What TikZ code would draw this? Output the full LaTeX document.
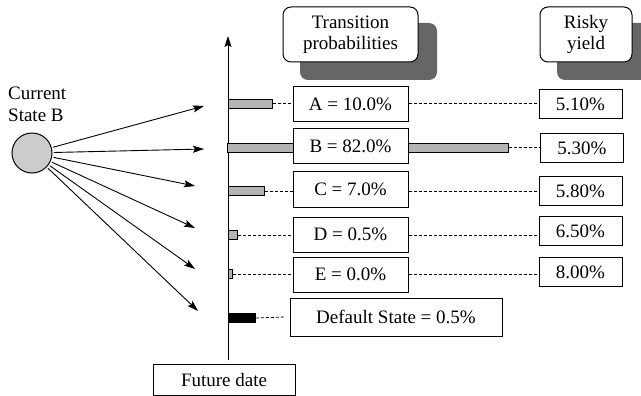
\documentclass[tikz,border=0pt]{standalone}
\usepackage{fontspec}
\setmainfont{Liberation Serif}
\usetikzlibrary{arrows.meta}
\definecolor{barfill}{HTML}{B4B4B4}
\definecolor{ballfill}{HTML}{CCCCCC}
\definecolor{shadowgray}{HTML}{666666}
\begin{document}
\begin{tikzpicture}[x=1pt,y=-1pt,
  every node/.style={font=\fontsize{19}{21.5}\selectfont, inner sep=0pt},
  box/.style={draw, line width=1pt, fill=white, minimum height=35pt, minimum width=115pt},
  ybox/.style={draw, line width=1pt, fill=white, minimum height=29pt, minimum width=83pt},
  bar/.style={draw, line width=0.8pt, fill=barfill, minimum height=9pt, anchor=west, inner sep=0pt},
  lead/.style={dash pattern=on 3pt off 2pt, line width=0.8pt},
  head/.style={draw, line width=1pt, rounded corners=8pt, fill=white, align=center},
  shade/.style={fill=shadowgray, rounded corners=8pt},
  arr/.style={line width=0.9pt, -{Stealth[length=11pt,width=7pt,inset=2pt]}}
]
\useasboundingbox (0,0) rectangle (641,396);

% column headers with drop shadows
\fill[shade] (300,23) rectangle (437,80);
\node[head, minimum width=135pt, minimum height=55pt] (hT) at (350.5,34.5) {Transition\\probabilities};
\fill[shade] (557,23) rectangle (660,80);
\node[head, minimum width=92pt, minimum height=55pt] (hY) at (586,34.5) {Risky\\yield};

% time axis
\coordinate (axb) at (228,360);
\coordinate (axt) at (228,36);
\draw[arr] (axb) -- (axt);
\node[draw, line width=1pt, minimum width=142pt, minimum height=31pt] (fd) at (224,380) {Future date};

% current state
\node[align=left, anchor=north west] (lbl) at (8,87) {Current\\State B};
\node[circle, draw, line width=1pt, fill=ballfill, minimum size=40pt, outer sep=2pt] (cur) at (32,153) {};

\coordinate (tA) at (204,106);
\coordinate (tB) at (204,149);
\coordinate (tC) at (195,186);
\coordinate (tD) at (195,228);
\coordinate (tE) at (195,269);
\coordinate (tF) at (198,311);
\foreach \t in {tA,tB,tC,tD,tE,tF} \draw[arr] (cur) -- (\t);

% probability bars
\node[bar, minimum width=44pt] (bA) at (228,103.5) {};
\node[bar, minimum width=281pt] (bB) at (227,147.5) {};
\node[bar, minimum width=36pt] (bC) at (228,191) {};
\node[bar, minimum width=9pt] (bD) at (228,235) {};
\node[bar, minimum width=4pt] (bE) at (228,274) {};
\node[bar, minimum width=27pt, fill=black] (bF) at (228,318) {};

% transition probability boxes
\node[box] (pA) at (350.5,104.5) {A = 10.0\%};
\node[box] (pB) at (350.5,146.5) {B = 82.0\%};
\node[box] (pC) at (350.5,189.5) {C = 7.0\%};
\node[box] (pD) at (350.5,234.5) {D = 0.5\%};
\node[box] (pE) at (350.5,274.5) {E = 0.0\%};
\node[box, minimum width=212pt, minimum height=38pt] (pF) at (396,317) {Default State = 0.5\%};

% risky yield boxes
\node[ybox] (yA) at (580.5,104.5) {5.10\%};
\node[ybox] (yB) at (582,148) {5.30\%};
\node[ybox] (yC) at (580.5,191) {5.80\%};
\node[ybox] (yD) at (580.5,231) {6.50\%};
\node[ybox] (yE) at (580.5,272) {8.00\%};

% leader lines
\draw[lead] (bA.east) -- (pA.west |- bA.east);
\draw[lead] (pA.east |- bA.east) -- (yA.west |- bA.east);
\draw[lead] (bB.east) -- (yB.west |- bB.east);
\draw[lead] (bC.east) -- (pC.west |- bC.east);
\draw[lead] (pC.east |- bC.east) -- (yC.west |- bC.east);
\draw[lead] (bD.east) -- (pD.west |- bD.east);
\draw[lead] (pD.east |- bD.east) -- (yD.west |- bD.east);
\draw[lead] (bE.east) -- (pE.west |- bE.east);
\draw[lead] (pE.east |- bE.east) -- (yE.west |- bE.east);
\draw[lead] (bF.east) -- ([xshift=-5pt]pF.west);
\end{tikzpicture}
\end{document}
